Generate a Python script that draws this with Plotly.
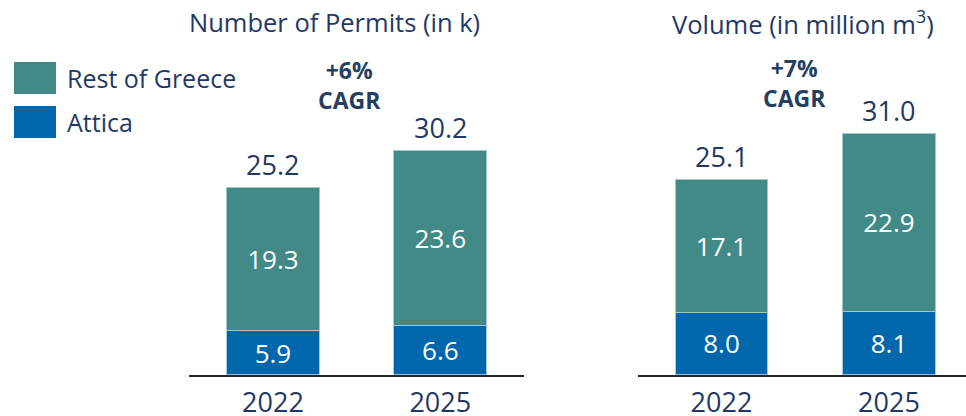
import plotly.graph_objects as go

years = ["2022", "2025"]
permits_attica = [5.9, 6.6]
permits_rest = [19.3, 23.6]
volume_attica = [8.0, 8.1]
volume_rest = [17.1, 22.9]
titles = ["Number of Permits (in k)", "Volume (in million m<sup>3</sup>)"]
cagr_labels = ["+6%<br>CAGR", "+7%<br>CAGR"]
series_names = ["Rest of Greece", "Attica"]

TEAL = "#418A87"
BLUE = "#0067AC"
NAVY = "#1F3864"
FONT = "Open Sans"

fig = go.Figure()

def add_stack(attica, rest, xa, ya):
    fig.add_trace(go.Bar(
        x=years, y=attica, name=series_names[1], marker=dict(color=BLUE, line=dict(color="#A9CBE3", width=1)),
        text=[f"{v:.1f}" for v in attica], textposition="inside", insidetextanchor="middle",
        textfont=dict(color="white", size=26, family=FONT), width=0.555,
        xaxis=xa, yaxis=ya, showlegend=False, cliponaxis=False))
    fig.add_trace(go.Bar(
        x=years, y=rest, name=series_names[0], marker=dict(color=TEAL, line=dict(color="#A3C8C6", width=1)),
        text=[f"{v:.1f}" for v in rest], textposition="inside", insidetextanchor="middle",
        textfont=dict(color="white", size=26, family=FONT), width=0.555,
        xaxis=xa, yaxis=ya, showlegend=False, cliponaxis=False))
    totals = [a + r for a, r in zip(attica, rest)]
    for i, t in enumerate(totals):
        fig.add_annotation(x=i, y=t, xref=xa, yref=ya, text=f"{t:.1f}", showarrow=False,
                           yanchor="middle", yshift=23,
                           font=dict(color=NAVY, size=27, family=FONT))

add_stack(permits_attica, permits_rest, "x", "y")
add_stack(volume_attica, volume_rest, "x2", "y2")

axis_common = dict(showgrid=False, zeroline=False, showline=True, linecolor="#262626", linewidth=2,
                   ticks="", tickfont=dict(size=27, color=NAVY, family=FONT), ticklabelstandoff=3,
                   automargin=False)
fig.update_layout(
    barmode="stack",
    width=966, height=416,
    margin=dict(l=0, r=0, t=0, b=0),
    paper_bgcolor="white", plot_bgcolor="white",
    showlegend=False,
    xaxis=dict(domain=[189.25/966, 524/966], range=[-0.5, 1.5], type="category", **axis_common),
    xaxis2=dict(domain=[637.75/966, 1.0], range=[-0.5, 1.46], type="category", anchor="y2", **axis_common),
    yaxis=dict(domain=[41.5/416, 1.0], range=[0, 50.6], visible=False, automargin=False),
    yaxis2=dict(domain=[41.5/416, 1.0], range=[0, 48.1], visible=False, anchor="x2", automargin=False),
)

# titles
fig.add_annotation(x=334/966, y=1 - 22/416, xref="paper", yref="paper", text=titles[0], showarrow=False,
                   xanchor="center", yanchor="middle", font=dict(size=25.5, color=NAVY, family=FONT))
fig.add_annotation(x=803/966, y=1 - 22/416, xref="paper", yref="paper", text=titles[1], showarrow=False,
                   xanchor="center", yanchor="middle", font=dict(size=25.5, color=NAVY, family=FONT))
# CAGR
fig.add_annotation(x=349/966, y=1 - 85/416, xref="paper", yref="paper", text="<b>" + cagr_labels[0] + "</b>",
                   showarrow=False, xanchor="center", yanchor="middle",
                   font=dict(size=23, color="#243F60", family=FONT))
fig.add_annotation(x=794/966, y=1 - 83/416, xref="paper", yref="paper", text="<b>" + cagr_labels[1] + "</b>",
                   showarrow=False, xanchor="center", yanchor="middle",
                   font=dict(size=23, color="#243F60", family=FONT))

# legend
for i, (name, col) in enumerate(zip(series_names, [TEAL, BLUE])):
    y0 = 62 + i * 44
    fig.add_shape(type="rect", xref="paper", yref="paper",
                  x0=14/966, x1=56/966, y0=1 - (y0 + 32)/416, y1=1 - y0/416,
                  fillcolor=col, line=dict(width=0))
    fig.add_annotation(x=65/966, y=1 - (y0 + 16)/416, xref="paper", yref="paper", text=name,
                       showarrow=False, xanchor="left", yanchor="middle",
                       font=dict(size=25, color=NAVY, family=FONT))

fig.write_html(
    "out.html",
    config={"displayModeBar": False, "responsive": False},
    post_script=("document.documentElement.style.margin='0';document.documentElement.style.overflow='hidden';"
                 "document.body.style.margin='0';document.body.style.padding='0';document.body.style.overflow='hidden';"),
)
